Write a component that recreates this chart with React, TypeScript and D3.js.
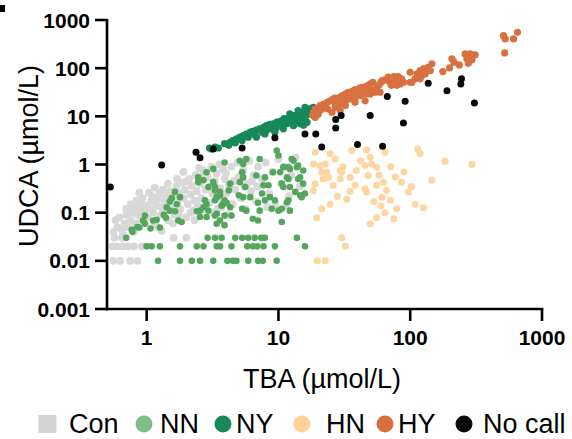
import React from "react";
import * as d3 from "d3";

type P = [number, number];

// [TBA, UDCA] pairs (µmol/L)
const conData: P[] = [
  [0.56, 0.01], [0.63, 0.01], [0.75, 0.01], [0.85, 0.01],
  [0.55, 0.02], [0.6, 0.02], [0.66, 0.02], [0.72, 0.02], [0.8, 0.02], [0.92, 0.02],
  [0.57, 0.03], [0.65, 0.03], [1.6, 0.03], [2.0, 0.03],
  [0.56, 0.04], [0.6, 0.05], [0.65, 0.045], [0.58, 0.07], [0.68, 0.06], [0.62, 0.08], [0.7, 0.09], [0.66, 0.035],
  [0.72, 0.05], [0.75, 0.07], [0.78, 0.1], [0.8, 0.13], [0.82, 0.06], [0.85, 0.09], [0.88, 0.12], [0.9, 0.16],
  [0.92, 0.07], [0.95, 0.11], [0.98, 0.14], [0.76, 0.15], [0.84, 0.18], [0.93, 0.2], [0.8, 0.04],
  [1.02, 0.08], [1.05, 0.12], [1.08, 0.17], [1.1, 0.22], [1.12, 0.1], [1.15, 0.06], [1.18, 0.14], [1.2, 0.19],
  [1.25, 0.25], [1.28, 0.09], [1.3, 0.13], [1.33, 0.3], [1.36, 0.18], [1.4, 0.11], [1.42, 0.22], [1.45, 0.07],
  [1.48, 0.15], [1.04, 0.26], [1.22, 0.05],
  [1.52, 0.28], [1.55, 0.12], [1.6, 0.2], [1.63, 0.09], [1.68, 0.35], [1.72, 0.16], [1.75, 0.25], [1.8, 0.12],
  [1.85, 0.42], [1.9, 0.2], [1.95, 0.3], [2.0, 0.08], [2.05, 0.15], [2.1, 0.5], [2.15, 0.24], [2.2, 0.36],
  [2.25, 0.11], [2.3, 0.18], [2.35, 0.6], [2.4, 0.28], [2.45, 0.14], [1.58, 0.06], [2.0, 0.45], [1.7, 0.5], [2.3, 0.07],
  [2.55, 0.4], [2.6, 0.2], [2.7, 0.75], [2.75, 0.12], [2.8, 0.3], [2.9, 0.55], [3.0, 0.16], [3.1, 0.9],
  [3.15, 0.25], [3.2, 0.1], [3.3, 0.45], [3.4, 0.65], [3.5, 0.2], [3.6, 0.32], [3.7, 0.13], [3.8, 0.8],
  [3.9, 0.5], [4.0, 0.25], [4.1, 0.09], [4.2, 0.38], [2.65, 0.55], [3.05, 0.35], [3.55, 1.0], [4.0, 0.65],
  [4.4, 0.9], [4.5, 0.15], [4.7, 0.3], [4.9, 1.1], [5.0, 0.55], [5.2, 0.2], [5.4, 0.75], [5.6, 0.12],
  [5.8, 0.4], [6.0, 1.2], [6.2, 0.28], [6.5, 0.6], [6.8, 0.17], [7.0, 0.9], [4.6, 0.45], [5.5, 0.35],
  [6.3, 0.45], [6.9, 0.35],
  [7.5, 0.5], [8.0, 1.1], [8.5, 0.25], [9.0, 0.7], [9.5, 0.15], [10, 1.3], [10.5, 0.4], [11, 0.9],
  [12, 0.22], [12.5, 0.6], [13.5, 1.4], [14.5, 0.35], [8.2, 0.13], [11.5, 0.14],
  [1.15, 0.33], [1.45, 0.4], [1.9, 0.7], [2.5, 0.85], [1.75, 0.09], [2.15, 0.1], [3.45, 0.12],
  [0.7, 0.12], [0.88, 0.26], [1.3, 0.042],
];

const nnData: P[] = [
  [1.22, 0.01], [1.79, 0.01], [2.2, 0.01], [2.54, 0.01], [3.2, 0.01], [4.1, 0.01], [4.5, 0.01], [4.8, 0.01],
  [5.9, 0.01], [7.0, 0.01], [7.6, 0.01], [9.7, 0.01],
  [1.0, 0.02], [1.09, 0.02], [1.26, 0.02], [1.79, 0.02], [2.4, 0.02], [2.7, 0.02], [3.4, 0.02], [3.6, 0.02],
  [4.4, 0.02], [5.8, 0.02], [6.4, 0.02], [6.9, 0.02], [7.7, 0.02], [9.4, 0.02], [15.9, 0.02],
  [0.7, 0.03], [2.9, 0.03], [3.3, 0.03], [3.7, 0.03], [4.7, 0.03], [5.3, 0.03], [5.9, 0.03], [6.6, 0.03],
  [7.4, 0.03], [7.9, 0.03], [13.8, 0.03],
  [0.77, 0.044], [0.88, 0.049], [0.97, 0.059], [1.12, 0.069], [1.26, 0.049], [1.19, 0.071], [1.42, 0.13],
  [1.5, 0.11], [1.64, 0.107], [1.69, 0.15], [1.74, 0.069], [1.84, 0.064], [1.79, 0.21], [2.46, 0.54],
  [2.46, 0.43], [2.4, 0.107], [2.54, 0.11], [2.85, 0.15], [3.2, 0.43], [3.3, 0.34], [2.94, 0.34], [3.4, 0.21],
  [2.85, 0.081], [3.3, 0.087], [3.6, 0.069], [3.7, 0.14], [3.9, 0.087], [4.2, 0.29], [1.64, 0.27], [0.97, 0.087],
  [0.94, 0.069], [3.6, 0.23], [3.9, 0.18], [2.54, 0.081],
  [2.7, 0.47], [2.77, 0.18], [3.3, 0.29], [3.3, 0.18], [3.4, 0.095], [3.8, 0.15], [4.05, 0.16], [4.3, 0.13],
  [4.4, 0.087], [5.1, 1.2], [5.3, 0.69], [5.4, 0.54], [5.1, 0.43], [5.6, 0.34], [5.0, 0.23], [5.4, 0.21],
  [6.1, 0.21], [5.3, 0.12], [5.7, 0.11], [6.4, 0.075], [7.0, 0.069], [7.2, 0.11], [7.0, 0.16], [7.5, 0.25],
  [7.7, 0.37], [8.4, 0.37], [7.9, 0.18], [8.6, 0.21], [9.4, 0.18], [8.9, 0.12], [10, 0.11], [9.1, 0.69],
  [10.3, 0.69], [10.6, 0.4], [11.9, 0.5], [11.9, 0.88], [12.2, 0.34], [13.4, 0.27], [11.9, 0.18], [13.8, 0.88],
  [14.6, 0.54], [14.6, 0.23], [9.7, 1.95], [10, 1.54], [7.2, 1.3], [5.7, 1.3], [5.4, 1.03], [13, 1.2],
  [6.8, 0.59], [7.9, 0.54], [3.2, 0.81], [2.85, 0.69], [3.9, 1.1], [4.3, 0.4], [3.6, 0.27], [2.7, 0.13],
  [2.94, 0.11], [3.4, 0.059], [3.9, 0.055],
  [12.6, 1.3], [10.9, 0.88], [12.2, 0.81], [14.1, 0.95], [15.4, 0.75], [11.6, 0.54], [14.1, 0.5], [15.4, 0.4],
  [10.9, 0.34], [15.9, 0.25], [15, 0.21], [11.6, 0.165], [10.6, 0.12], [12.2, 0.11], [10.6, 0.064],
  [0.78, 0.04], [0.85, 0.05], [1.07, 0.047], [1.35, 0.09], [1.4, 0.078], [1.5, 0.17], [1.55, 0.2],
];

const nyData: P[] = [
  [3.1, 2.1], [3.3, 2.3], [3.9, 2.7], [4.3, 2.9], [4.5, 3.15], [4.8, 3.4], [5.1, 3.7], [5.4, 4.0], [5.7, 4.3],
  [6.1, 4.7], [6.4, 4.9], [6.8, 5.2], [7.2, 5.5], [7.7, 5.9], [8.1, 6.4], [8.6, 6.8], [9.1, 7.0], [9.7, 7.6],
  [10.3, 7.9], [10.9, 8.2], [11.6, 8.9], [12.2, 9.6], [13, 10.4], [13.8, 10.9], [14.6, 11.3], [15.4, 12.2],
  [16.3, 13.2], [17.4, 14.3], [18.4, 15.4], [4.2, 2.5], [4.7, 2.8], [5.3, 3.15], [5.9, 3.7], [6.6, 4.2],
  [7.5, 4.7], [8.1, 5.1], [8.9, 5.5], [9.7, 5.9], [10.6, 6.4], [11.6, 7.0], [12.6, 7.6], [13.8, 8.2], [15, 8.9],
  [16.3, 10.4], [17.9, 11.3], [6.8, 3.7], [7.9, 4.3], [9.4, 4.7], [10.9, 5.5], [13, 6.4], [14.6, 7.0],
  [12.2, 11.3], [14.1, 13.2], [15.9, 15.4], [11, 9.0], [3.0, 2.2], [3.5, 2.2], [15.5, 6.5], [16.5, 7.5],
];

const hnData: P[] = [
  [19, 1.8], [24.7, 1.67], [36, 1.95], [46.6, 2.0], [64.3, 1.8], [114, 2.1], [119, 1.67], [184, 1.17], [294, 1.0],
  [146, 0.47], [49.7, 1.42], [51, 1.03], [45.5, 0.95], [55.5, 0.88], [18.4, 1.03], [20.7, 0.95], [22.7, 1.03],
  [21.3, 0.69], [23.3, 0.69], [24, 0.54], [21.9, 0.5], [19, 0.4], [18.4, 0.29], [26, 0.37], [29.4, 0.75],
  [30.2, 0.69], [35, 0.54], [29.4, 0.5], [39, 0.75], [38.2, 0.37], [48, 0.59], [45.5, 0.31], [46.6, 0.27],
  [55.5, 0.37], [62.6, 0.43], [66, 0.29], [61, 0.21], [70.5, 0.18], [86, 0.43], [97, 0.27], [109, 0.15],
  [126, 0.126], [79, 0.12], [64.3, 0.1], [55.5, 0.078], [49.7, 0.059], [75, 0.075], [33, 0.19], [24.7, 0.15],
  [21.3, 0.12], [19.5, 0.078], [30.2, 0.03], [32.2, 0.02], [19.7, 0.01], [22.7, 0.01],
  [58, 0.6], [42, 1.2], [27, 1.3], [31, 0.9], [71, 0.9], [77, 0.55], [90, 0.7], [102, 0.35], [53, 0.17],
  [60, 0.14], [35, 0.28], [28, 0.22],
];

const hyData: P[] = [
  [510, 474], [526, 405], [608, 405], [652, 556], [521, 207],
  [261, 198], [285, 198], [311, 189], [269, 156], [294, 149], [276, 126],
  [207, 156], [215, 133], [236, 117], [199, 101], [177, 85],
  [146, 123], [137, 104], [126, 97], [119, 89], [113, 76], [122, 70], [130, 76], [142, 89], [109, 60],
  [100, 82], [100, 51], [119, 60],
  [68, 65], [75, 67], [81, 67], [86, 60], [70, 51], [77, 51], [84, 47], [72, 44], [79, 44], [89, 51],
  [61, 55], [103, 51],
  [19, 14.3], [19.5, 11.3], [20.7, 16.7], [22, 18], [23.5, 19.5], [24.7, 21], [26, 23], [27, 24], [29.4, 25],
  [30.5, 27], [32.2, 29], [33.5, 31], [35, 32], [37, 34], [38.2, 36], [41.7, 39], [43.5, 40], [47, 43],
  [49.7, 37], [52, 34], [56, 40], [23.5, 14.3], [25.5, 12.2], [27, 15.4], [29.4, 18], [32.2, 21], [35, 23],
  [38.2, 25], [41.7, 27], [45.5, 29], [49.7, 29], [54, 31.6], [59, 31.6], [45.5, 21], [38.2, 19.5],
  [32.2, 16.7], [29.4, 13.2], [27, 18], [22.7, 15.4], [49.7, 47], [52, 51], [60, 51],
  [18.5, 12], [19, 9.5], [20, 11], [21, 13.5], [18.2, 10.5], [40, 31], [44, 35], [36, 28], [31, 22], [28, 20],
  [58, 45], [64, 57], [55, 36],
];

const noCallData: P[] = [
  [0.53, 0.34], [1.3, 0.98], [2.37, 1.8], [2.54, 1.38], [3.2, 2.1], [5.3, 2.2], [9.4, 3.6], [15.9, 4.3],
  [19.2, 4.3], [21.3, 2.3], [27.2, 5.7], [27.2, 8.6], [29.9, 10.4], [49.7, 10.4], [39.8, 2.6], [61.7, 2.4],
  [67, 25.8], [91.5, 20.6], [88.8, 7.3], [137, 48.6], [190, 34], [245, 60], [242, 47], [307, 18.9],
];

const xTicks = [1, 10, 100, 1000];
const xTickLabels = ["1", "10", "100", "1000"];
const yTicks = [0.001, 0.01, 0.1, 1, 10, 100, 1000];
const yTickLabels = ["0.001", "0.01", "0.1", "1", "10", "100", "1000"];

const legendLabels = ["Con", "NN", "NY", "HN", "HY", "No call"];

const FONT = "'Liberation Sans', Arial, Helvetica, sans-serif";

export default function App() {
  const x = d3.scaleLog().domain([0.5, 1000]).range([107, 542]);
  const y = d3.scaleLog().domain([0.001, 1000]).range([309, 20]);

  const series = [
    { data: conData, color: "#d8d8d8", r: 3.9 },
    { data: nnData, color: "#55a65d", r: 3.3 },
    { data: hnData, color: "#fdd6a0", r: 3.5 },
    { data: nyData, color: "#17885a", r: 3.6 },
    { data: hyData, color: "#d8703f", r: 3.6 },
    { data: noCallData, color: "#0a0a0a", r: 3.5 },
  ];

  const legendItems = [
    { label: legendLabels[0], color: "#d4d4d4", mx: 47.5, tx: 69, square: true },
    { label: legendLabels[1], color: "#7fbf84", mx: 144, tx: 160, square: false },
    { label: legendLabels[2], color: "#17885a", mx: 223, tx: 236, square: false },
    { label: legendLabels[3], color: "#fdd39a", mx: 302, tx: 326, square: false },
    { label: legendLabels[4], color: "#d8703f", mx: 385, tx: 398, square: false },
    { label: legendLabels[5], color: "#0a0a0a", mx: 464, tx: 483, square: false },
  ];

  const [x0, x1] = x.range();
  const [y0, y1] = y.range();

  return (
    <div style={{ position: "fixed", left: 0, top: 0 }}>
      <svg width={572} height={439} style={{ display: "block", background: "#fff" }}>
        <rect x={0} y={5} width={5} height={7} fill="#000" />
        <g>
          {series.map((s, si) =>
            s.data.map((d, i) => (
              <circle key={si + "-" + i} cx={x(d[0])} cy={y(d[1])} r={s.r} fill={s.color} />
            ))
          )}
        </g>
        <g stroke="#000" strokeWidth={2.6} fill="none">
          <line x1={x0} x2={x0} y1={y1 - 1} y2={y0 + 1.3} />
          <line x1={x0 - 1.3} x2={x1 + 1.3} y1={y0} y2={y0} />
          {yTicks.map((t) => (
            <line key={"yt" + t} x1={x0 - 12} x2={x0} y1={y(t)} y2={y(t)} />
          ))}
          {xTicks.map((t) => (
            <line key={"xt" + t} x1={x(t)} x2={x(t)} y1={y0} y2={y0 + 12} />
          ))}
        </g>
        <g fontFamily={FONT} fontWeight="bold" fontSize={21} fill="#000">
          {yTicks.map((t, i) => (
            <text key={"yl" + t} x={90} y={y(t) + 7.5} textAnchor="end">
              {yTickLabels[i]}
            </text>
          ))}
          {xTicks.map((t, i) => (
            <text key={"xl" + t} x={x(t)} y={345} textAnchor="middle">
              {xTickLabels[i]}
            </text>
          ))}
        </g>
        <g fontFamily={FONT} fontSize={27} fill="#000">
          <text x={322} y={388} textAnchor="middle">TBA (µmol/L)</text>
          <text transform="translate(38,156) rotate(-90)" textAnchor="middle">UDCA (µmol/L)</text>
        </g>
        <g fontFamily={FONT} fontSize={27} fill="#000">
          {legendItems.map((it) => (
            <g key={it.label}>
              {it.square ? (
                <rect x={it.mx - 9} y={424 - 9} width={18} height={18} fill={it.color} />
              ) : (
                <circle cx={it.mx} cy={424} r={8.5} fill={it.color} />
              )}
              <text x={it.tx} y={433}>{it.label}</text>
            </g>
          ))}
        </g>
      </svg>
    </div>
  );
}
